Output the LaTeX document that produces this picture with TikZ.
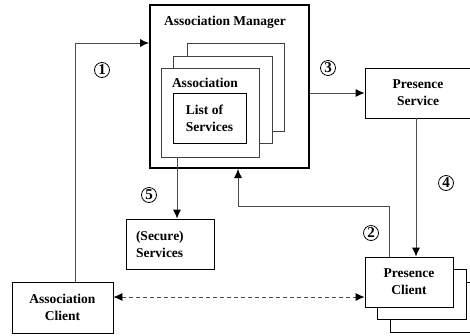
\documentclass[tikz,border=0pt]{standalone}
\usepackage{fontspec}
\setmainfont{Liberation Serif}
\usetikzlibrary{arrows.meta}
\begin{document}
\begin{tikzpicture}[
        x=1pt, y=-1pt,
        font=\fontsize{13.5}{17}\selectfont\bfseries,
        box/.style={rectangle, draw, fill=white, line width=0.8pt, inner sep=0pt, align=center},
        stack/.style={box, draw=black!75},
        num/.style={circle, draw, line width=0.8pt, inner sep=0pt, minimum size=15pt,
            font=\fontsize{15}{17}\selectfont\bfseries},
        flow/.style={draw=black!70, line width=0.8pt, -{Latex[black, length=9pt, width=8pt]}},
        talk/.style={draw=black!70, line width=0.8pt, dash pattern=on 4pt off 3pt,
            {Latex[black, length=9pt, width=8pt]}-{Latex[black, length=9pt, width=8pt]}}
    ]
        \useasboundingbox (0,0) rectangle (470,335);
        \node[box, line width=2pt, minimum width=159pt, minimum height=163pt] (manager) at (229.5,86.5) {};
        \node (mtitle) at (225,22) {Association Manager};
        \node[stack, minimum width=97pt, minimum height=88pt] (assoc3) at (235.5,87) {};
        \node[stack, minimum width=99pt, minimum height=87pt] (assoc2) at (222.5,99.5) {};
        \node[stack, minimum width=98pt, minimum height=89pt] (assoc) at (210,112.5) {};
        \node (atitle) at (205,83) {Association};
        \node[box, minimum width=73pt, minimum height=50pt, align=left] (list) at (209.5,118) {List of\\Services};
        \node[box, minimum width=88pt, minimum height=50pt, text width=68pt, inner xsep=10pt, align=left]
            (secure) at (170,244) {(Secure)\\Services};
        \node[box, minimum width=101pt, minimum height=51pt] (aclient) at (62.5,307.5) {Association\\Client};
        \node[box, minimum width=106pt, minimum height=50pt] (pservice) at (418,93) {Presence\\Service};
        \node[box, minimum width=88pt, minimum height=50pt] (pclient3) at (434,307) {};
        \node[box, minimum width=89pt, minimum height=50pt] (pclient2) at (421.5,294) {};
        \node[box, minimum width=88pt, minimum height=50pt] (pclient) at (409,282) {Presence\\Client};
        \node[num] (n1) at (102,70) {1};
        \node[num] (n2) at (371,233) {2};
        \node[num] (n3) at (328,68) {3};
        \node[num] (n4) at (446,183) {4};
        \node[num] (n5) at (149,195) {5};
        \draw[flow] ([xshift=12.5pt]aclient.north) |- ([yshift=43.5pt]manager.west);
        \draw[flow] (pclient.north -| pclient3.west) -- ++(0,-50) -| ([xshift=8.5pt]manager.south);
        \draw[flow] (manager.east |- pservice.west) -- (pservice.west);
        \draw[flow] ([xshift=-2pt]pservice.south) -- ([xshift=-2pt]pservice.south |- pclient.north);
        \draw[flow] ([xshift=-33pt]assoc.south) -- ([xshift=-33pt]assoc.south |- secure.north);
        \draw[talk] ([yshift=10.5pt]aclient.east) -- ([yshift=10.5pt]aclient.east -| pclient.west);
    \end{tikzpicture}
\end{document}
